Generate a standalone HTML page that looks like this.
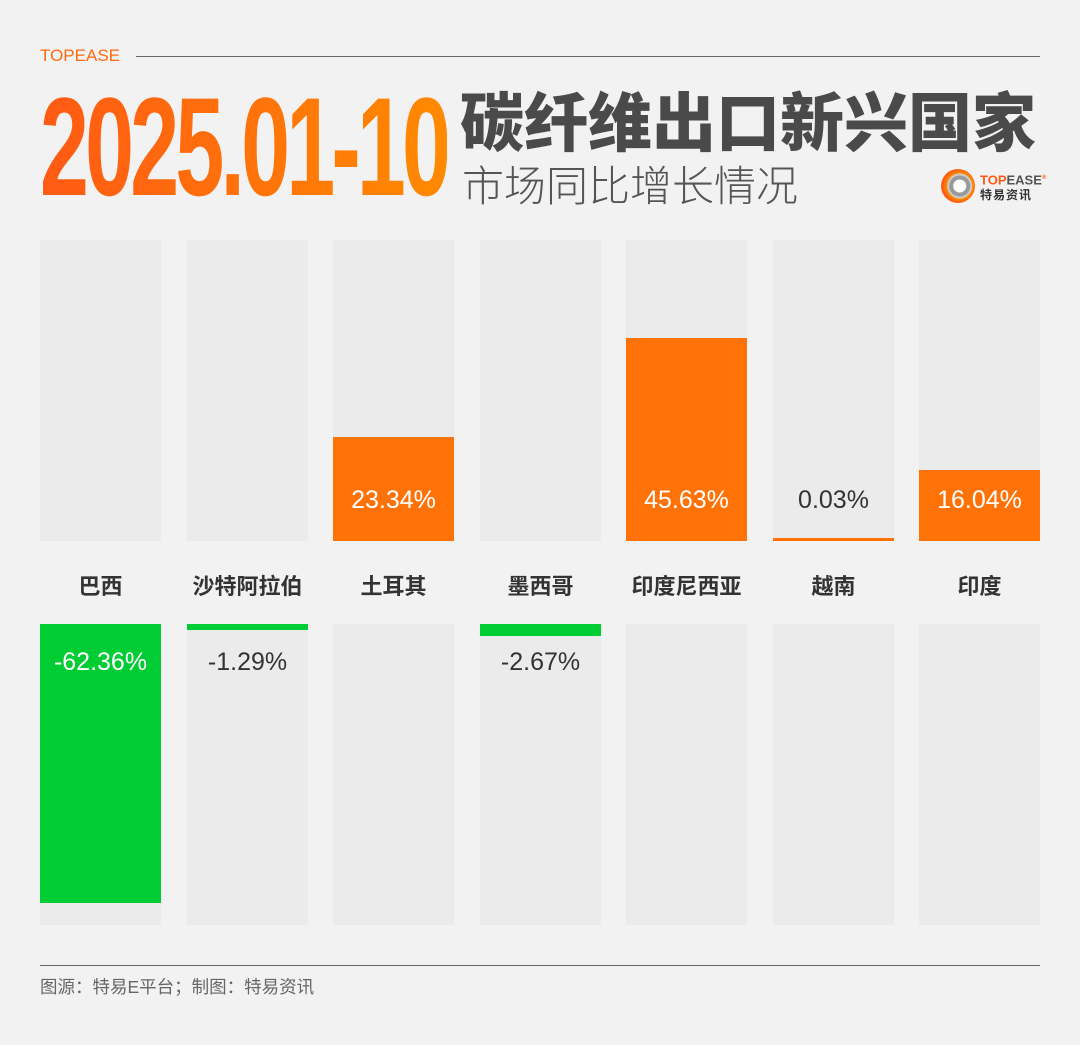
<!DOCTYPE html>
<html><head><meta charset="utf-8"><style>
body{margin:0;width:1080px;height:1045px;background:#f2f2f2;position:relative;overflow:hidden;font-family:"Liberation Sans","Noto Sans CJK SC",sans-serif}
.a{position:absolute}
.bg{position:absolute;background:#ebebeb;width:121px}
.lab{position:absolute;width:121px;text-align:center;font-size:22px;font-weight:bold;color:#333;top:569px}
.v{position:absolute;width:121px;text-align:center;font-size:25px;color:#333}
.w{color:#fff}
</style></head><body>
<div class="a" style="left:40px;top:46px;font-size:17px;color:#ff6a10">TOPEASE</div>
<div class="a" style="left:136px;top:56px;width:904px;height:1px;background:#666"></div>
<div class="a" style="left:40px;top:77px;font-family:'Liberation Sans Narrow','Liberation Sans',sans-serif;font-weight:bold;font-size:140px;letter-spacing:-6px;line-height:140px;transform-origin:0 0;transform:scaleX(0.628);background:linear-gradient(90deg,#ff5a14,#ff8a00);-webkit-background-clip:text;color:transparent;white-space:nowrap">2025.01-10</div>
<div class="a" style="left:460px;top:84px;font-size:64px;font-weight:900;color:#4a4a4a;line-height:80px;white-space:nowrap">碳纤维出口新兴国家</div>
<div class="a" style="left:462px;top:162px;font-size:42px;color:#555;line-height:50px;white-space:nowrap;font-weight:300">市场同比增长情况</div>
<div class="a" style="left:941px;top:169px;width:34px;height:34px;border-radius:50%;background:radial-gradient(circle at 55% 50%,#fff 0 6px,#999 7px 10px,#ccc 11px 12px,#ff8a00 13px,#ff5a14 17px)"></div>
<div class="a" style="left:980px;top:171px;font-size:13px;font-weight:bold;color:#ff5a14;line-height:14px">TOP<span style="color:#555">EASE</span><sup style="font-size:6px">®</sup></div>
<div class="a" style="left:980px;top:186px;font-size:12px;font-weight:bold;color:#333;letter-spacing:1px">特易资讯</div>

<div class="bg" style="left:40px;top:240px;height:301px"></div>
<div class="bg" style="left:187px;top:240px;height:301px"></div>
<div class="bg" style="left:333px;top:240px;height:301px"></div>
<div class="bg" style="left:480px;top:240px;height:301px"></div>
<div class="bg" style="left:626px;top:240px;height:301px"></div>
<div class="bg" style="left:773px;top:240px;height:301px"></div>
<div class="bg" style="left:919px;top:240px;height:301px"></div>
<div class="a" style="left:333px;top:437px;width:121px;height:104px;background:#ff7208"></div>
<div class="a" style="left:626px;top:338px;width:121px;height:203px;background:#ff7208"></div>
<div class="a" style="left:773px;top:538px;width:121px;height:3px;background:#ff7208"></div>
<div class="a" style="left:919px;top:470px;width:121px;height:71px;background:#ff7208"></div>
<div class="v w" style="left:333px;top:486px">23.34%</div>
<div class="v w" style="left:626px;top:486px">45.63%</div>
<div class="v" style="left:773px;top:486px">0.03%</div>
<div class="v w" style="left:919px;top:486px">16.04%</div>

<div class="lab" style="left:40px">巴西</div>
<div class="lab" style="left:187px">沙特阿拉伯</div>
<div class="lab" style="left:333px">土耳其</div>
<div class="lab" style="left:480px">墨西哥</div>
<div class="lab" style="left:626px">印度尼西亚</div>
<div class="lab" style="left:773px">越南</div>
<div class="lab" style="left:919px">印度</div>

<div class="bg" style="left:40px;top:624px;height:301px"></div>
<div class="bg" style="left:187px;top:624px;height:301px"></div>
<div class="bg" style="left:333px;top:624px;height:301px"></div>
<div class="bg" style="left:480px;top:624px;height:301px"></div>
<div class="bg" style="left:626px;top:624px;height:301px"></div>
<div class="bg" style="left:773px;top:624px;height:301px"></div>
<div class="bg" style="left:919px;top:624px;height:301px"></div>
<div class="a" style="left:40px;top:624px;width:121px;height:279px;background:#00cc33"></div>
<div class="a" style="left:187px;top:624px;width:121px;height:6px;background:#00cc33"></div>
<div class="a" style="left:480px;top:624px;width:121px;height:12px;background:#00cc33"></div>
<div class="v w" style="left:40px;top:648px">-62.36%</div>
<div class="v" style="left:187px;top:648px">-1.29%</div>
<div class="v" style="left:480px;top:648px">-2.67%</div>

<div class="a" style="left:40px;top:965px;width:1000px;height:1px;background:#666"></div>
<div class="a" style="left:40px;top:974px;font-size:17.5px;color:#666">图源：特易E平台；制图：特易资讯</div>
</body></html>
